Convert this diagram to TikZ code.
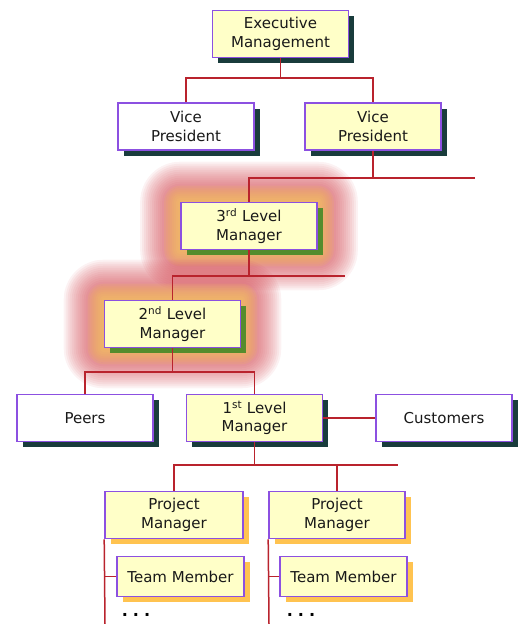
\documentclass[tikz,border=0pt]{standalone}
\usepackage{fontspec}
\newfontfamily\boxfont{DejaVu Sans}
\usepackage{tikz}
\usetikzlibrary{positioning,shadows,backgrounds,calc}

\definecolor{boxrand}{RGB}{140,80,225}
\definecolor{boxgelb}{RGB}{255,255,200}
\definecolor{schattendunkel}{RGB}{25,60,60}
\definecolor{schattengruen}{RGB}{85,140,45}
\definecolor{schattenorange}{RGB}{255,195,80}
\definecolor{linienrot}{RGB}{185,35,45}
\definecolor{glanzrot}{RGB}{210,70,80}
\definecolor{glanzorange}{RGB}{245,195,100}

\tikzset{
  box/.style={draw=boxrand, line width=1.6pt, fill=boxgelb, minimum width=136pt, minimum height=47pt,
    inner sep=0pt, align=center, text=black!90, font=\boxfont\fontsize{15}{18.5}\selectfont},
  weiss/.style={fill=white},
  dunkel/.style={drop shadow={shadow xshift=5.5pt, shadow yshift=-5.5pt, fill=schattendunkel, opacity=1}},
  gruen/.style={drop shadow={shadow xshift=5.5pt, shadow yshift=-5.5pt, fill=schattengruen, opacity=1}},
  orange/.style={drop shadow={shadow xshift=5.5pt, shadow yshift=-5.5pt, fill=schattenorange, opacity=1}},
  link/.style={draw=linienrot, line width=1.5pt},
  punkte/.style={font=\boxfont\bfseries\fontsize{16}{16}\selectfont, inner sep=0pt, anchor=base}
}

\begin{document}
\begin{tikzpicture}[x=1pt, y=-1pt]
    \useasboundingbox (0,0) rectangle (520,624);
    \clip (0,0) rectangle (520,624);

    % Leitung
    \node (exec) at (280.5,34) [box, dunkel] {Executive\\Management};
    \node (vp1) at (186,126.5) [box, weiss, dunkel] {Vice\\President};
    \node (vp2) at (373,126.5) [box, dunkel] {Vice\\President};

    % Manager
    \node (mgr3) at (249,226) [box, gruen] {3\textsuperscript{rd} Level\\Manager};
    \node (mgr2) at (172.5,324) [box, gruen] {2\textsuperscript{nd} Level\\Manager};
    \node (peers) at (85,418) [box, weiss, dunkel] {Peers};
    \node (mgr1) at (254.5,418) [box, dunkel] {1\textsuperscript{st} Level\\Manager};
    \node (cust) at (444,418) [box, weiss, dunkel] {Customers};

    % Projekte
    \node (pm1) at (174,515) [box, orange, minimum width=138pt] {Project\\Manager};
    \node (pm2) at (337,515) [box, orange] {Project\\Manager};
    \node (tm1) at (180.5,576.5) [box, orange, minimum width=127pt, minimum height=40pt] {Team Member};
    \node (tm2) at (343.5,576.5) [box, orange, minimum width=127pt, minimum height=40pt] {Team Member};
    \node (dots1) at (136,616) [punkte] {.\kern5pt.\kern5pt.};
    \node (dots2) at (301,616) [punkte] {.\kern5pt.\kern5pt.};

    % Glanz um die Manager
    \begin{scope}[on background layer]
      \foreach \m in {mgr3, mgr2} {
        \foreach \g in {40,38,...,10}
          \fill[glanzrot, opacity=0.07, rounded corners=\g pt]
            ($(\m.south west)+(-\g,\g)$) rectangle ($(\m.north east)+(\g,-\g)$);
        \foreach \g in {16,14,...,2}
          \fill[glanzorange, opacity=0.17, rounded corners=\g pt]
            ($(\m.south west)+(-\g,\g)$) rectangle ($(\m.north east)+(\g,-\g)$);
      }
    \end{scope}

    % Verbindungen
    \coordinate (busA) at (280.5,78);
    \coordinate (busB) at (373,178);
    \coordinate (busBende) at (475,178);
    \coordinate (busC) at (249,276);
    \coordinate (busCende) at (345,276);
    \coordinate (busD) at (172.5,372);
    \coordinate (busE) at (254.5,465);
    \coordinate (busEende) at (398,465);
    \coordinate (ende1) at (105,624);
    \coordinate (ende2) at (269,624);

    \draw[link] (exec.south) -- (busA);
    \draw[link] (vp1.north) |- (busA) -| (vp2.north);
    \draw[link] (vp2.south) -- (busB);
    \draw[link] (mgr3.north) |- (busBende);
    \draw[link] (mgr3.south) -- (busC);
    \draw[link] (mgr2.north) |- (busCende);
    \draw[link] (mgr2.south) -- (busD);
    \draw[link] (peers.north) |- (busD) -| (mgr1.north);
    \draw[link] (mgr1.east) -- (cust.west);
    \draw[link] (mgr1.south) -- (busE);
    \draw[link] (pm1.north) |- (busEende);
    \draw[link] (pm2.north) -- (pm2.north |- busE);
    \draw[link] (pm1.south west) -- (ende1);
    \draw[link] (pm2.south west) -- (ende2);
    \draw[link] (tm1.west) -- (tm1.west -| ende1);
    \draw[link] (tm2.west) -- (tm2.west -| ende2);
\end{tikzpicture}
\end{document}
